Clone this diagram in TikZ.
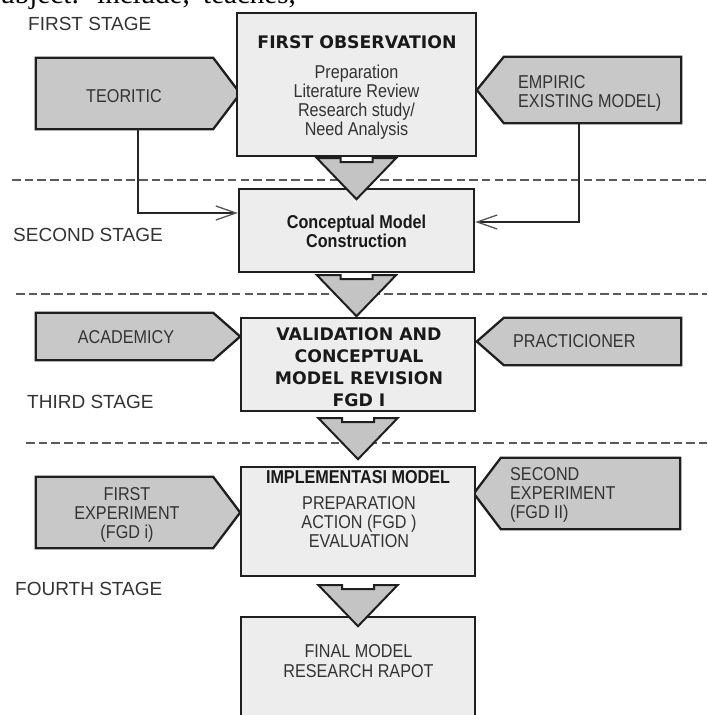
\documentclass[tikz,border=0pt]{standalone}
\usepackage{fontspec}
\setmainfont{Liberation Sans}
\newfontfamily\bodyf{Liberation Sans}[FakeStretch=0.87]
\newfontfamily\titlef{DejaVu Sans}
\newfontfamily\serf{Liberation Serif}
\usetikzlibrary{arrows.meta,backgrounds,calc}
\definecolor{boxc}{HTML}{EDEDED}
\definecolor{pentc}{HTML}{C8C8C8}
\definecolor{tric}{HTML}{C4C4C4}
\definecolor{bordc}{HTML}{1F1F1F}
\definecolor{txtc}{HTML}{333333}
\definecolor{dashc}{HTML}{5A5A5A}
\definecolor{barbc}{HTML}{555555}
\tikzset{
  mainbox/.style={draw=bordc, fill=boxc, line width=2.4pt, inner sep=0pt},
  pentarea/.style={inner sep=0pt},
  pentshape/.style={draw=bordc, fill=pentc, line width=2.3pt, line join=miter},
  bodytxt/.style={inner sep=0pt, text=txtc, font=\bodyf\fontsize{18.6}{19}\selectfont},
  boldtxt/.style={inner sep=0pt, text=black!90, font=\bodyf\bfseries\fontsize{18.6}{19}\selectfont},
  titletxt/.style={inner sep=0pt, text=black!90, font=\titlef\bfseries\fontsize{17.3}{22}\selectfont},
  stagetxt/.style={inner sep=0pt, text=txtc, font=\fontsize{19}{22}\selectfont, anchor=base west},
  sepline/.style={draw=dashc, line width=2pt, dash pattern=on 8.5pt off 4.2pt},
  conn/.style={draw=black!85, line width=1.8pt,
    -{Straight Barb[length=20pt,width=14pt,line width=1.3pt,color=barbc]}},
  tri/.style={draw=bordc, fill=tric, line width=2pt, line join=miter},
  flowtri/.pic={\draw[tri] (-39.5,0) -- (-16,0) -- (-16,4) -- (16,4) -- (16,0) -- (39.5,0) -- (0,41) -- cycle;}
}
\begin{document}
\begin{tikzpicture}[x=1pt,y=-1pt]
\useasboundingbox (0,0) rectangle (707,715);
\begin{pgfonlayer}{background}
\fill[white] (0,0) rectangle (707,715);
\end{pgfonlayer}

% cut-off text at the very top
\node[anchor=base west, inner sep=0pt, font=\serf\fontsize{29}{30}\selectfont] (cuta) at (-11,3) {subject:};
\node[anchor=base west, inner sep=0pt, font=\serf\fontsize{29}{30}\selectfont] (cutb) at (97,3) {include,};
\node[anchor=base west, inner sep=0pt, font=\serf\fontsize{29}{30}\selectfont] (cutc) at (203,3) {teaches,};

% stage separators
\draw[sepline] (12,180) -- (707,180);
\draw[sepline] (16,294) -- (707,294);
\draw[sepline] (26,443) -- (707,443);

% stage labels
\node[stagetxt] (s1) at (28,30) {FIRST STAGE};
\node[stagetxt] (s2) at (13,241) {SECOND STAGE};
\node[stagetxt] (s3) at (27,408) {THIRD STAGE};
\node[stagetxt] (s4) at (15,595) {FOURTH STAGE};

% main boxes
\node[mainbox, minimum width=239pt, minimum height=143pt] (obs) at (356.5,84.5) {};
\node[mainbox, minimum width=235pt, minimum height=83pt] (concept) at (356.5,230.5) {};
\node[mainbox, minimum width=234pt, minimum height=93pt] (valid) at (358,364.5) {};
\node[mainbox, minimum width=234pt, minimum height=109pt] (impl) at (358,521.5) {};
\node[mainbox, minimum width=234pt, minimum height=110pt] (final) at (358,672) {};

% side input areas
\node[pentarea, minimum width=177pt, minimum height=71pt] (teo) at (124.5,93.5) {};
\node[pentarea, minimum width=177pt, minimum height=66pt] (emp) at (592.5,90) {};
\node[pentarea, minimum width=177pt, minimum height=47pt] (aca) at (124.5,336.5) {};
\node[pentarea, minimum width=177pt, minimum height=47pt] (pra) at (592.5,341.5) {};
\node[pentarea, minimum width=177pt, minimum height=71pt] (fex) at (124.5,512.5) {};
\node[pentarea, minimum width=179pt, minimum height=71pt] (sex) at (590.5,493.5) {};

\begin{pgfonlayer}{background}
  \foreach \n in {teo,aca,fex}{
    \draw[pentshape] (\n.north west) -- (\n.north east) -- ([xshift=27pt]\n.east)
      -- (\n.south east) -- (\n.south west) -- cycle;
  }
  \foreach \n in {emp,pra,sex}{
    \draw[pentshape] (\n.north east) -- (\n.north west) -- ([xshift=-27pt]\n.west)
      -- (\n.south west) -- (\n.south east) -- cycle;
  }
\end{pgfonlayer}

% texts in side shapes (anchor base = baseline of the last line)
\node[bodytxt, anchor=base] (teot) at (124,102) {TEORITIC};
\node[bodytxt, anchor=base west, align=left] (empt) at (518,107) {EMPIRIC\\EXISTING MODEL)};
\node[bodytxt, anchor=base] (acat) at (126,343) {ACADEMICY};
\node[bodytxt, anchor=base west] (prat) at (513,347) {PRACTICIONER};
\node[bodytxt, anchor=base, align=center] (fext) at (127,538) {FIRST\\EXPERIMENT\\(FGD i)};
\node[bodytxt, anchor=base west, align=left] (sext) at (510,518) {SECOND\\EXPERIMENT\\(FGD II)};

% texts in main boxes
\node[titletxt, anchor=base] (obst) at (357,48) {FIRST OBSERVATION};
\node[bodytxt, anchor=base, align=center] (obsb) at (356.5,135) {Preparation\\Literature Review\\Research study/\\Need Analysis};
\node[boldtxt, anchor=base, align=center] (conct) at (356.5,247) {Conceptual Model\\Construction};
\node[titletxt, anchor=base, align=center] (validt) at (359,406) {VALIDATION AND\\CONCEPTUAL\\MODEL REVISION\\FGD I};
\node[boldtxt, anchor=base] (implt) at (358,483) {IMPLEMENTASI MODEL};
\node[bodytxt, anchor=base, align=center] (implb) at (359,547) {PREPARATION\\ACTION (FGD )\\EVALUATION};
\node[bodytxt, anchor=base, align=center, font=\bodyf\fontsize{18.6}{20}\selectfont] (finalt) at (358.5,677) {FINAL MODEL\\RESEARCH RAPOT};

% flow triangles between stages
\pic at ($(obs.south)+(0,1)$) {flowtri};
\pic at ($(concept.south)+(0,2)$) {flowtri};
\pic at ($(valid.south)+(0,6)$) {flowtri};
\pic at ($(impl.south)+(0,8)$) {flowtri};

% connectors into the conceptual model
\draw[conn] ([xshift=13.5pt]teo.south) |- ([yshift=17.5pt]concept.west);
\draw[conn] ([xshift=-13.5pt]emp.south) |- ([yshift=8.5pt]concept.east);
\end{tikzpicture}
\end{document}
